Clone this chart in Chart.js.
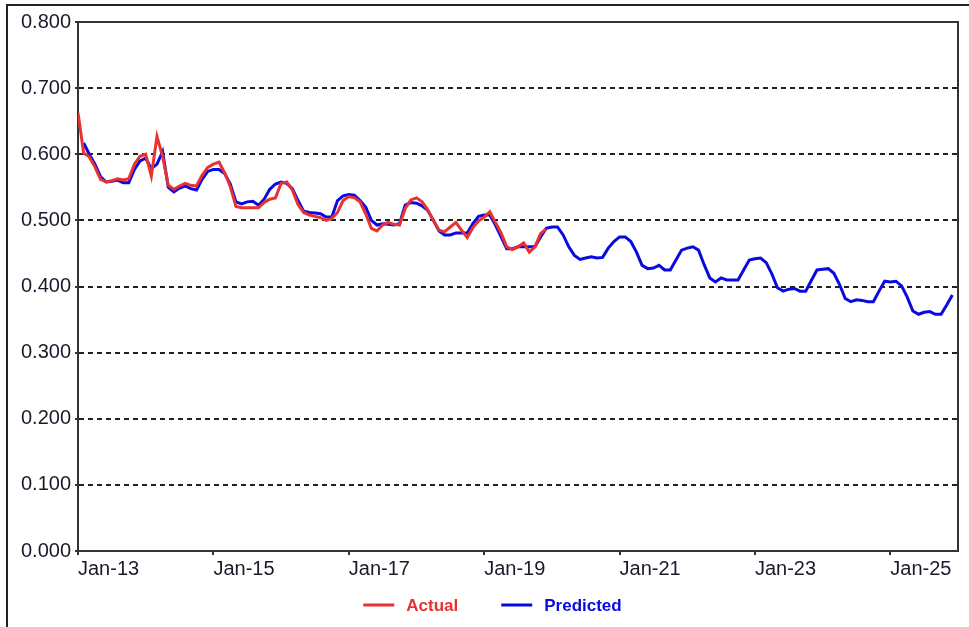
<!DOCTYPE html>
<html lang="en">
<head>
    <meta charset="UTF-8">
    <title>Actual vs Predicted</title>
    <script src="https://cdn.jsdelivr.net/npm/chart.js"></script>
    <style>
        html, body { margin: 0; padding: 0; background: #fff; }
        canvas { display: block; }
    </style>
</head>
<body>
    <canvas id="grafico" width="969" height="627"></canvas>

<script>
    // months counted from Jan 2013 (0 = Jan-13)
    const xTickValues = [0, 24, 48, 72, 96, 120, 144];
    const xTickLabels = ['Jan-13', 'Jan-15', 'Jan-17', 'Jan-19', 'Jan-21', 'Jan-23', 'Jan-25'];
    const yTickLabels = ['0.000', '0.100', '0.200', '0.300', '0.400', '0.500', '0.600', '0.700', '0.800'];

    const actualStart = 0;
    const actual = [
        0.663, 0.602, 0.596, 0.581, 0.562, 0.558, 0.560, 0.563, 0.561, 0.563, 0.585, 0.597,
        0.600, 0.567, 0.627, 0.597, 0.553, 0.547, 0.552, 0.556, 0.553, 0.552, 0.568, 0.580,
        0.585, 0.588, 0.572, 0.551, 0.521, 0.519, 0.519, 0.519, 0.519, 0.527, 0.532, 0.534,
        0.556, 0.558, 0.546, 0.524, 0.512, 0.508, 0.506, 0.504, 0.500, 0.503, 0.512, 0.530,
        0.536, 0.534, 0.528, 0.510, 0.488, 0.484, 0.493, 0.497, 0.494, 0.493, 0.518, 0.531,
        0.534, 0.528, 0.516, 0.500, 0.485, 0.483, 0.490, 0.497, 0.485, 0.474, 0.489, 0.499,
        0.505, 0.513, 0.497, 0.481, 0.460, 0.456, 0.460, 0.466, 0.452, 0.460, 0.480, 0.487
    ];

    const predictedStart = 1;
    const predicted = [
               0.617, 0.600, 0.585, 0.566, 0.558, 0.559, 0.561, 0.557, 0.557, 0.577, 0.590,
        0.594, 0.578, 0.585, 0.604, 0.550, 0.543, 0.549, 0.552, 0.548, 0.546, 0.562, 0.574,
        0.577, 0.577, 0.571, 0.555, 0.528, 0.525, 0.528, 0.529, 0.523, 0.532, 0.547, 0.555,
        0.558, 0.556, 0.548, 0.530, 0.514, 0.512, 0.511, 0.510, 0.505, 0.505, 0.530, 0.537,
        0.539, 0.538, 0.530, 0.520, 0.500, 0.493, 0.495, 0.494, 0.493, 0.495, 0.523, 0.527,
        0.526, 0.522, 0.515, 0.500, 0.484, 0.478, 0.478, 0.481, 0.481, 0.481, 0.495, 0.506,
        0.508, 0.508, 0.493, 0.475, 0.457, 0.457, 0.460, 0.460, 0.460, 0.460, 0.475, 0.488,
        0.490, 0.490, 0.478, 0.460, 0.447, 0.441, 0.443, 0.445, 0.443, 0.444, 0.458, 0.468,
        0.475, 0.475, 0.468, 0.452, 0.432, 0.427, 0.428, 0.432, 0.425, 0.425, 0.440, 0.455,
        0.458, 0.460, 0.455, 0.433, 0.413, 0.407, 0.413, 0.410, 0.410, 0.410, 0.425, 0.440,
        0.442, 0.443, 0.436, 0.419, 0.398, 0.393, 0.396, 0.397, 0.393, 0.393, 0.409, 0.425,
        0.426, 0.427, 0.420, 0.403, 0.382, 0.377, 0.380, 0.379, 0.377, 0.377, 0.393, 0.408,
        0.407, 0.408, 0.401, 0.384, 0.363, 0.358, 0.361, 0.362, 0.358, 0.358, 0.372, 0.387
    ];

    const corVermelho = '#e83232';
    const corAzul = '#0a0ae0';
    const fonte = '"Liberation Sans", Arial, sans-serif';

    // moldura externa e borda da área do gráfico
    const molduras = {
        id: 'molduras',
        beforeDraw(chart) {
            const ctx = chart.ctx;
            ctx.save();
            ctx.fillStyle = '#222';
            ctx.fillRect(6, 4, 2, chart.height - 4);
            ctx.fillRect(6, 4, chart.width - 6, 2);
            ctx.restore();
        },
        beforeDatasetsDraw(chart) {
            const a = chart.chartArea;
            const ctx = chart.ctx;
            ctx.save();
            ctx.strokeStyle = '#333';
            ctx.lineWidth = 2;
            ctx.strokeRect(a.left, a.top, a.right - a.left, a.bottom - a.top);
            ctx.restore();
        }
    };

    // legenda desenhada à mão (espaçamento igual ao original)
    const legenda = {
        id: 'legenda',
        afterDraw(chart) {
            const ctx = chart.ctx;
            const ds = chart.data.datasets;
            const y = 605;
            ctx.save();
            ctx.font = 'bold 17px ' + fonte;
            ctx.textBaseline = 'middle';
            const larguras = ds.map(d => ctx.measureText(d.label).width);
            const total = ds.length * (31 + 12) + larguras.reduce((s, w) => s + w, 0) + 43 * (ds.length - 1);
            let x = chart.width / 2 + 8 - total / 2;
            ds.forEach((d, i) => {
                ctx.fillStyle = d.borderColor;
                ctx.fillRect(x, y - 1.5, 31, 3);
                x += 31 + 12;
                ctx.fillText(d.label, x, y + 1);
                x += larguras[i] + 43;
            });
            ctx.restore();
        }
    };

    const ctx = document.getElementById('grafico').getContext('2d');

    new Chart(ctx, {
        type: 'line',
        data: {
            datasets: [{
                label: 'Actual',
                data: actual.map((v, i) => ({ x: actualStart + i, y: v })),
                borderColor: corVermelho,
                backgroundColor: corVermelho,
                borderWidth: 3,
                pointRadius: 0,
                tension: 0
            }, {
                label: 'Predicted',
                data: predicted.map((v, i) => ({ x: predictedStart + i, y: v })),
                borderColor: corAzul,
                backgroundColor: corAzul,
                borderWidth: 3,
                pointRadius: 0,
                tension: 0
            }]
        },
        options: {
            responsive: false,
            animation: false,
            devicePixelRatio: 1,
            layout: { padding: { top: 22, right: 11, bottom: 42, left: 0 } },
            scales: {
                x: {
                    type: 'linear',
                    min: 0,
                    max: 156,
                    afterBuildTicks: (scale) => { scale.ticks = xTickValues.map(v => ({ value: v })); },
                    afterFit: (scale) => { scale.height = 34; },
                    grid: { drawOnChartArea: false, drawTicks: true, tickLength: 4, color: '#333', lineWidth: 2 },
                    border: { display: true, color: '#333', width: 2 },
                    ticks: {
                        align: 'start',
                        maxRotation: 0,
                        padding: 2,
                        color: '#1a1a2a',
                        font: { family: fonte, size: 20 },
                        callback: (v) => xTickLabels[xTickValues.indexOf(v)]
                    }
                },
                y: {
                    min: 0,
                    max: 0.8,
                    afterBuildTicks: (scale) => { scale.ticks = yTickLabels.map(t => ({ value: Number(t) })); },
                    afterFit: (scale) => { scale.width = 78; },
                    grid: {
                        color: (c) => (c.tick && (c.tick.value === 0 || c.tick.value === 0.8)) ? 'rgba(0,0,0,0)' : '#222',
                        tickColor: '#333',
                        lineWidth: 2,
                        tickLength: 3,
                        tickBorderDash: []
                    },
                    border: { display: true, color: '#333', width: 2, dash: [5, 4] },
                    ticks: {
                        padding: 4,
                        color: '#1a1a2a',
                        font: { family: fonte, size: 20 },
                        callback: (v) => yTickLabels.find(t => Number(t) === v)
                    }
                }
            },
            plugins: {
                legend: { display: false },
                tooltip: { enabled: false }
            }
        },
        plugins: [molduras, legenda]
    });
</script>
</body>
</html>
